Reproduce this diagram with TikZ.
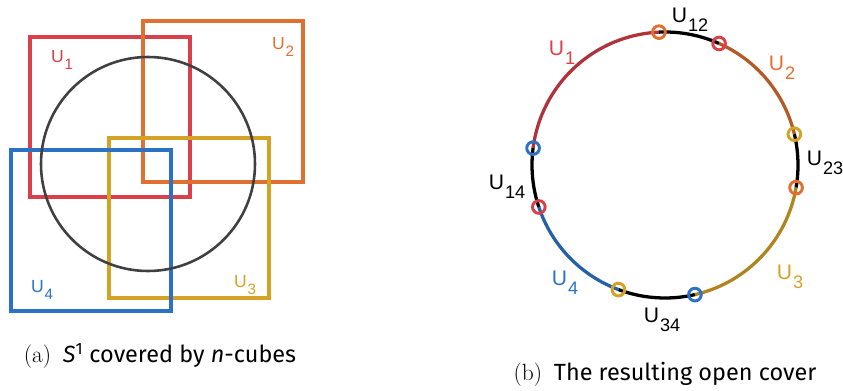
\documentclass[tikz,border=0pt]{standalone}
\usepackage{fontspec}
\usepackage{xcolor}
\usepackage{tikz}
\setsansfont{Liberation Sans}
\newfontfamily\capfont{Latin Modern Roman}
\newfontfamily\captext{Fira Sans}
\definecolor{cred}{HTML}{D9404A}
\definecolor{corange}{HTML}{E07030}
\definecolor{cyellow}{HTML}{D4A224}
\definecolor{cblue}{HTML}{2B72C6}
\newcommand{\Ulab}[1]{U\kern0.05em\raisebox{-0.42em}{\scalebox{0.86}{#1}}}

\begin{document}
\begin{tikzpicture}[
    x=0.03cm, y=0.03cm,
    font=\sffamily,
    cube/.style={draw, line width=3pt},
    sphere/.style={draw=black!75, line width=2.2pt},
    piece/.style={line width=2.8pt},
    endpt/.style={circle, draw, line width=2.5pt, minimum size=0.38cm, inner sep=0pt},
    lleft/.style={font=\sffamily\fontsize{15}{17}\selectfont, inner sep=0pt},
    lright/.style={font=\sffamily\fontsize{18}{20}\selectfont, inner sep=0pt},
    capt/.style={font=\captext\fontsize{20}{23}\selectfont, inner sep=0pt}
]
\useasboundingbox (0,0) rectangle (843,390);
% ============================================================
% (a) the circle and the four cubes
% ============================================================
\draw[cube, cred]    (30,353)  rectangle (190,193);
\draw[cube, corange] (143,369) rectangle (303,208);
\draw[cube, cyellow] (109,252) rectangle (269,92);
\draw[cube, cblue]   (11,240)  rectangle (171,79);
\coordinate (cL) at (148,226);
\draw[sphere] (cL) circle[radius=107];

\node[lleft, text=cred]    (l1) at (62,330)  {\Ulab{1}};
\node[lleft, text=corange] (l2) at (283,343) {\Ulab{2}};
\node[lleft, text=cyellow] (l3) at (245,105) {\Ulab{3}};
\node[lleft, text=cblue]   (l4) at (42,100)  {\Ulab{4}};

% ============================================================
% (b) the resulting open cover
% ============================================================
\coordinate (cR) at (665,225);
\draw[piece, cred!80!black]     ([shift={(172.7:133)}]cR) arc[start angle=172.7, end angle=92.6, radius=133];
\draw[piece, black]             ([shift={(92.6:133)}]cR)  arc[start angle=92.6,  end angle=66,   radius=133];
\draw[piece, corange!80!black]  ([shift={(66:133)}]cR)    arc[start angle=66,    end angle=13.4, radius=133];
\draw[piece, black]             ([shift={(13.4:133)}]cR)  arc[start angle=13.4,  end angle=-9.8, radius=133];
\draw[piece, cyellow!82!black]  ([shift={(-9.8:133)}]cR)  arc[start angle=-9.8,  end angle=-77,  radius=133];
\draw[piece, black]             ([shift={(-77:133)}]cR)   arc[start angle=-77,   end angle=-110.5, radius=133];
\draw[piece, cblue!85!black]    ([shift={(-110.5:133)}]cR) arc[start angle=-110.5, end angle=-161.6, radius=133];
\draw[piece, black]             ([shift={(-161.6:133)}]cR) arc[start angle=-161.6, end angle=-187.3, radius=133];

\node[endpt, draw=corange] (e2a) at ([shift={(92.6:133)}]cR)  {};
\node[endpt, draw=cred]    (e1b) at ([shift={(66:133)}]cR)    {};
\node[endpt, draw=cyellow] (e3a) at ([shift={(13.4:133)}]cR)  {};
\node[endpt, draw=corange] (e2b) at ([shift={(-9.8:133)}]cR)  {};
\node[endpt, draw=cblue]   (e4a) at ([shift={(-77:133)}]cR)   {};
\node[endpt, draw=cyellow] (e3b) at ([shift={(-110.5:133)}]cR) {};
\node[endpt, draw=cred]    (e1a) at ([shift={(-161.6:133)}]cR) {};
\node[endpt, draw=cblue]   (e4b) at ([shift={(172.7:133)}]cR) {};

\node[lright, text=cred]    (r1)  at (562,337) {\Ulab{1}};
\node[lright, text=corange] (r2)  at (782,322) {\Ulab{2}};
\node[lright, text=cyellow] (r3)  at (790,113) {\Ulab{3}};
\node[lright, text=cblue]   (r4)  at (565,107) {\Ulab{4}};
\node[lright]               (r12) at (690,370) {\Ulab{12}};
\node[lright]               (r23) at (825,227) {\Ulab{23}};
\node[lright]               (r34) at (662,70)  {\Ulab{34}};
\node[lright]               (r14) at (507,203) {\Ulab{14}};

% captions
\node[capt] (capA) at (160,34) {{\capfont\textsc{(a)}}\enspace\textit{S}\textsuperscript{1} covered by \textit{n}-cubes};
\node[capt] (capB) at (665,16) {{\capfont\textsc{(b)}}\enspace The resulting open cover};
\end{tikzpicture}
\end{document}
